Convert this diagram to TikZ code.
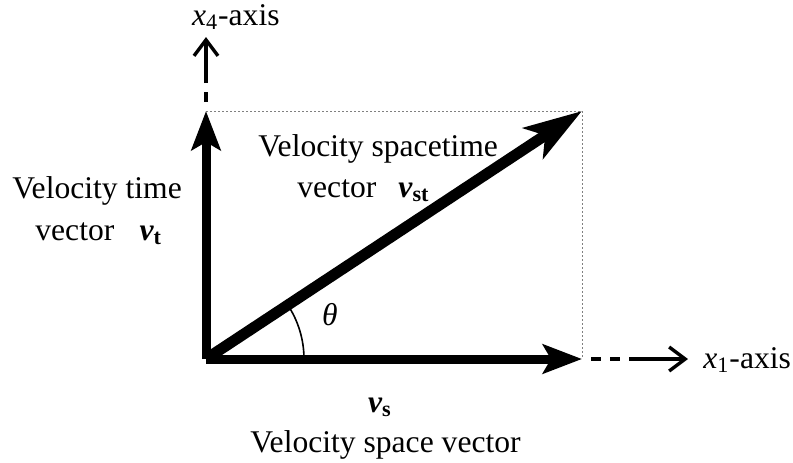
\documentclass[tikz,border=0pt]{standalone}
\usepackage{fontspec}
\setmainfont{Liberation Serif}
\usetikzlibrary{arrows.meta,positioning}

\newcommand{\bvec}[2]{{\bfseries\itshape #1}\textsubscript{\bfseries #2}}

\begin{document}
\begin{tikzpicture}[x=0.5pt, y=-0.5pt,
  vec/.style={line width=4.5pt, -{Stealth[length=19.5pt,width=14.5pt,inset=4pt]}},
  bigvec/.style={line width=5.5pt, -{Stealth[length=29pt,width=18pt,inset=7pt]}},
  axis/.style={line width=1.7pt, -{Straight Barb[length=8pt,width=12pt]}},
  axisdash/.style={line width=1.7pt, dash pattern=on 5pt off 4.5pt, dash phase=5pt},
  guide/.style={gray, dash pattern=on 1pt off 1pt, line width=0.5pt},
  lbl/.style={font=\fontsize{15.8}{19}\selectfont, inner sep=0pt}]
  \useasboundingbox (0,0) rectangle (793,462);
  % corners of the velocity rectangle
  \coordinate (o) at (206,359);
  \coordinate (t) at (206,111);
  \coordinate (s) at (582,359);
  \coordinate (st) at (582,111);
  % axis ends
  \coordinate (x4a) at (206,77);
  \coordinate (x4) at (206,37);
  \coordinate (x1a) at (633,359);
  \coordinate (x1) at (688,359);
  \draw[guide] (t) -- (st) -- (s);
  \draw[axisdash] (t) -- (x4a);
  \draw[axis] (x4a) -- (x4);
  \draw[axisdash] (s) -- (x1a);
  \draw[axis] (x1a) -- (x1);
  \draw[vec] (o) -- (t);
  \draw[vec] (o) -- (s);
  \draw[bigvec] (o) -- (st);
  \draw[line width=0.8pt] ([xshift=49pt]o) arc[start angle=0, end angle=33.4, radius=49pt];
  % labels
  \node[lbl, anchor=base east] (x4lbl) at (280,25) {\textit{x}\textsubscript{4}-axis};
  \node[lbl, anchor=base west] (x1lbl) at (703,368) {\textit{x}\textsubscript{1}-axis};
  \node[lbl, anchor=base west] (vtlbl) at (12,198) {Velocity time};
  \node[lbl, anchor=base west] (vtvec) at (35,240) {vector\hspace{0.8em}\bvec{v}{t}};
  \node[lbl, anchor=base west] (vstlbl) at (258,156) {Velocity spacetime};
  \node[lbl, anchor=base west] (vstvec) at (297,197) {vector\hspace{0.7em}\bvec{v}{st}};
  \node[lbl] (theta) at (330,315) {\textit{θ}};
  \node[lbl, anchor=base] (vslbl) at (380,412) {\bvec{v}{s}};
  \node[lbl, anchor=base west] (vsname) at (250,452) {Velocity space vector};
\end{tikzpicture}
\end{document}
